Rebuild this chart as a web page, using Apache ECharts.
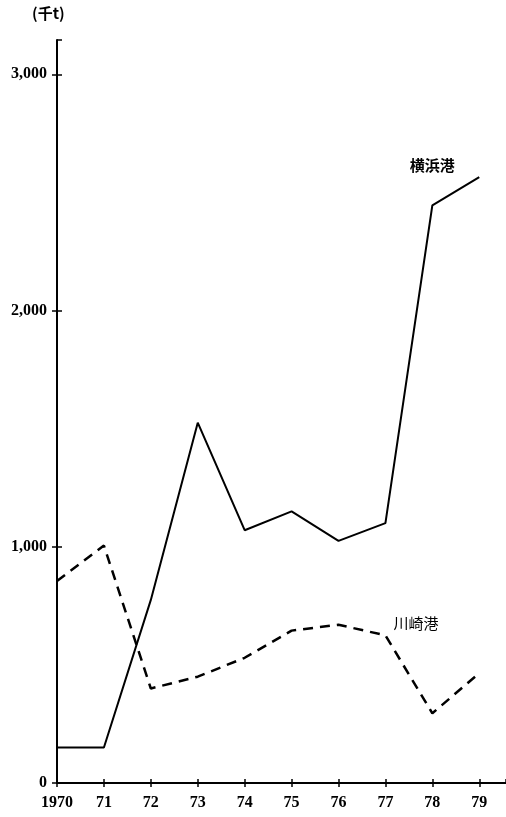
<!DOCTYPE html>
<html>
<head>
<meta charset="utf-8">
<script src="https://cdn.jsdelivr.net/npm/echarts@6/dist/echarts.min.js"></script>
<style>
  html, body { margin: 0; padding: 0; background: #fff; }
  #main { width: 506px; height: 817px; }
</style>
</head>
<body>
<div id="main"></div>
<script>
var years = [1970, 1971, 1972, 1973, 1974, 1975, 1976, 1977, 1978, 1979];
var yokohama = [150, 150, 775, 1525, 1070, 1150, 1025, 1100, 2445, 2565];
var kawasaki = [855, 1005, 400, 450, 530, 645, 670, 625, 295, 465];
var yTicks = [0, 1000, 2000, 3000];

var serif = '"Liberation Serif", "DejaVu Serif", serif';
var cjk = '"Noto Sans CJK JP", sans-serif';

// [year, value] pairs; one point carries the series name as its label
function pairs(vals, labelIdx, label) {
  return vals.map(function (v, i) {
    var item = { value: [years[i], v] };
    if (i === labelIdx) item.label = label;
    return item;
  });
}

var chart = echarts.init(document.getElementById('main'));
chart.setOption({
  backgroundColor: '#fff',
  animation: false,
  grid: { left: 57, right: 0, top: 40, bottom: 34 },
  graphic: [{
    type: 'text',
    left: 32, top: 6,
    style: { text: '(千t)', font: 'bold 15px ' + cjk, fill: '#000' }
  }],
  xAxis: [{
    type: 'value',
    min: 1970, max: 1979.57, interval: 1,
    splitLine: { show: false },
    axisLine: { lineStyle: { color: '#000', width: 2 } },
    axisTick: { length: 4, lineStyle: { color: '#000', width: 1.5 } },
    axisLabel: {
      color: '#000', fontFamily: serif, fontSize: 16, fontWeight: 'bold', margin: 12,
      showMaxLabel: false,
      formatter: function (v) {
        if (Math.abs(v - Math.round(v)) > 0.01) return '';
        return v === 1970 ? '1970' : String(v).slice(2);
      }
    }
  }, {
    type: 'value', position: 'bottom',
    min: 1970, max: 1979.57, interval: 1,
    splitLine: { show: false },
    axisLine: { show: false },
    axisTick: { inside: true, length: 4, lineStyle: { color: '#000', width: 1.5 } },
    axisLabel: { show: false }
  }],
  yAxis: [{
    type: 'value',
    min: 0, max: 3145, interval: 1000,
    splitLine: { show: false },
    axisLine: { show: true, lineStyle: { color: '#000', width: 2 } },
    axisTick: { show: true, length: 5, lineStyle: { color: '#000', width: 1.5 } },
    axisLabel: {
      color: '#000', fontFamily: serif, fontSize: 16, fontWeight: 'bold', margin: 10,
      showMaxLabel: false,
      formatter: function (v) {
        if (yTicks.indexOf(v) < 0) return '';
        return v === 0 ? '0' : v.toLocaleString('en-US');
      }
    }
  }, {
    type: 'value', position: 'left',
    min: 0, max: 3145, interval: 1000,
    splitLine: { show: false },
    axisLine: { show: false },
    axisTick: { show: true, inside: true, length: 5, lineStyle: { color: '#000', width: 1.5 } },
    axisLabel: { show: false }
  }],
  series: [{
    name: '横浜港',
    type: 'line',
    symbol: 'circle',
    symbolSize: 0,
    showSymbol: true,
    itemStyle: { color: '#000' },
    lineStyle: { color: '#000', width: 2 },
    data: pairs(yokohama, 8, {
      show: true, position: 'top', distance: 33,
      formatter: '横浜港', color: '#000',
      fontFamily: cjk, fontSize: 15, fontWeight: 'bold'
    })
  }, {
    name: '川崎港',
    type: 'line',
    symbol: 'circle',
    symbolSize: 0,
    showSymbol: true,
    itemStyle: { color: '#000' },
    lineStyle: { color: '#000', width: 2.5, type: [10, 7] },
    data: pairs(kawasaki, 7, {
      show: true, position: 'right', distance: 8, offset: [0, -12],
      formatter: '川崎港', color: '#000',
      fontFamily: cjk, fontSize: 15
    })
  }]
});
</script>
</body>
</html>
